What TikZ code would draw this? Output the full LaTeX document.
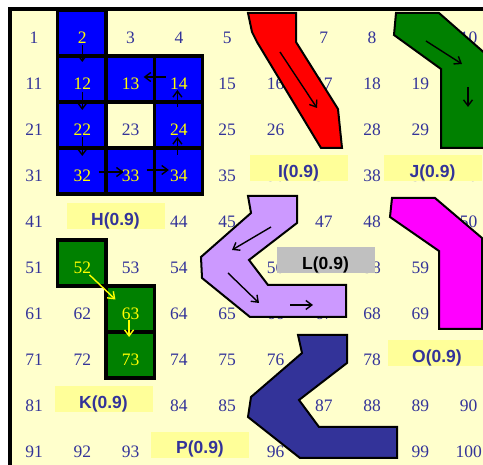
\documentclass[tikz,border=0pt]{standalone}
\usepackage{fontspec}
\setmainfont{Liberation Serif}
\newfontfamily\labfont{Liberation Sans}
\usetikzlibrary{arrows.meta}
\definecolor{cream}{HTML}{FFFFCC}
\definecolor{labbg}{HTML}{FFFF99}
\definecolor{navy}{HTML}{333399}
\definecolor{hblue}{HTML}{0000FF}
\definecolor{kgreen}{HTML}{008000}
\definecolor{ired}{HTML}{FF0000}
\definecolor{omag}{HTML}{FF00FF}
\definecolor{lpurp}{HTML}{CC99FF}
\definecolor{lgray}{HTML}{C0C0C0}
\definecolor{ylw}{HTML}{FFFF00}
\begin{document}
\begin{tikzpicture}[x=1pt,y=-1pt,
  num/.style={font=\fontsize{17.5}{20}\selectfont, inner sep=0pt},
  cellbox/.style={draw=black, line width=3.2pt},
  poly/.style={draw=black, line width=2pt, line join=miter},
  arr/.style={-{Straight Barb[length=6pt,width=9pt]}, line width=1.4pt},
  lab/.style={font=\labfont\bfseries\fontsize{17.5}{19}\selectfont, fill=labbg, text=navy,
    minimum width=98pt, minimum height=26pt, inner sep=0pt, text height=17.5pt, text depth=0pt}
]
\useasboundingbox (0,0) rectangle (483,465);
\clip (0,0) rectangle (483,465);
\fill[white] (0,0) rectangle (483,465);
\draw[fill=cream, line width=4pt] (9.5,9.5) rectangle (520,520);

% H cells
\foreach \r/\c in {0/1,1/1,1/2,1/3,2/1,2/3,3/1,3/2,3/3}
  \draw[cellbox, fill=hblue] ({9.5+48.2*\c},{10+46*\r}) rectangle ++(48.2,46);
% K cells
\foreach \r/\c in {5/1,6/2,7/2}
  \draw[cellbox, fill=kgreen] ({9.5+48.2*\c},{10+46*\r}) rectangle ++(48.2,46);

% numbers
\foreach \n in {1,...,100}{
  \pgfmathtruncatemacro\r{(\n-1)/10}
  \pgfmathtruncatemacro\c{\n-1-10*\r}
  \gdef\tc{navy}
  \foreach \m in {2,12,13,14,22,24,32,33,34,52,63,73}{\ifnum\n=\m\relax\gdef\tc{ylw}\fi}
  \node[num, text=\tc] (n\n) at ({34+48.3*\c},{38+46*\r}) {\n};
}

% shapes
\draw[poly, fill=ired] (248,13) -- (296,13) -- (296,42) -- (338,109) -- (342,148) -- (321,148) -- (257,42) -- (252,32) -- cycle;
\draw[poly, fill=kgreen] (396,13) -- (439,13) -- (488,56) -- (488,148) -- (441,148) -- (441,69) -- (394,35) -- cycle;
\draw[poly, fill=omag] (392,198) -- (435,198) -- (482,238) -- (482,329) -- (439,329) -- (439,251) -- (390,217) -- cycle;
\draw[poly, fill=lpurp] (248,196) -- (297,196) -- (297,223) -- (249,260) -- (268,285) -- (346,285) -- (346,317) -- (250,317) -- (202,278) -- (201,257) -- (251,213) -- cycle;
\draw[poly, fill=navy] (298,335) -- (347,335) -- (347,363) -- (299,400) -- (319,427) -- (397,427) -- (397,458) -- (300,458) -- (248,417) -- (251,397) -- (302,353) -- cycle;

% inner arrows of shapes
\coordinate (ia1) at (280,52);  \coordinate (ib1) at (317,108);
\coordinate (ia2) at (426,41);  \coordinate (ib2) at (462,64);
\coordinate (ia3) at (468,87);  \coordinate (ib3) at (468,107);
\coordinate (ia4) at (271,227); \coordinate (ib4) at (232,250);
\coordinate (ia5) at (228,273); \coordinate (ib5) at (259,303);
\coordinate (ia6) at (290,305); \coordinate (ib6) at (313,305);
\foreach \i in {1,...,6} \draw[arr] (ia\i) -- (ib\i);

% H arrows
\draw[arr, shorten <=7pt, shorten >=22pt] (n2.center) -- (n12.center);
\draw[arr, shorten <=8pt, shorten >=20pt] (n12.center) -- (n22.center);
\draw[arr, shorten <=7pt, shorten >=20pt] (n22.center) -- (n32.center);
\draw[arr, shorten <=17pt, shorten >=7pt] ([yshift=4pt]n32.center) -- ([yshift=4pt]n33.center);
\draw[arr, shorten <=16pt, shorten >=10pt] ([yshift=6pt]n33.center) -- ([yshift=6pt]n34.center);
\draw[arr, shorten <=21pt, shorten >=7pt] ([xshift=-1.5pt]n34.center) -- ([xshift=-1.5pt]n24.center);
\draw[arr, shorten <=23pt, shorten >=6pt] ([xshift=-1.5pt]n24.center) -- ([xshift=-1.5pt]n14.center);
\draw[arr, shorten <=13pt, shorten >=13pt] ([yshift=7pt]n14.center) -- ([yshift=7pt]n13.center);

% K arrows
\draw[arr, draw=ylw, shorten <=10pt, shorten >=21pt] (n52.center) -- (n63.center);
\draw[arr, draw=ylw, shorten <=6pt, shorten >=23pt] ([xshift=-1.5pt]n63.center) -- ([xshift=-1.5pt]n73.center);

% labels
\node[lab] (H) at (115.5,216.5) {H(0.9)};
\node[lab] (I) at (298.5,168.5) {I(0.9)};
\node[lab] (J) at (432.5,168.5) {J(0.9)};
\node[lab] (K) at (103.5,399.5) {K(0.9)};
\node[lab] (P) at (200,445) {P(0.9)};
\node[lab, fill=lgray, text=black] (L) at (325.5,260.5) {L(0.9)};
\node[lab] (O) at (437,353.5) {O(0.9)};
\end{tikzpicture}
\end{document}
